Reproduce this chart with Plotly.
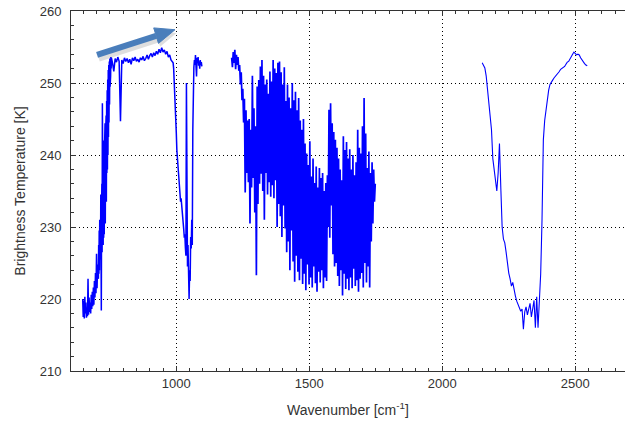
import plotly.graph_objects as go

# ---- data (brightness temperature spectrum) ----
# segment A: 648..706 cm-1, sampled every 2 cm-1
segA_start, segA_step = 648, 2
segA_bt = [
    220.0, 217.5, 219.8, 217.3, 220.3, 218.0, 219.5, 217.4, 218.8, 217.6,
    222.8, 217.8, 220.2, 218.2, 219.5, 218.0, 220.6, 218.6, 221.0, 219.0,
    221.6, 219.2, 222.5, 220.2, 223.6, 220.8, 226.3, 221.5, 224.8, 222.8,
]
# segment A2 (steep noisy rise): 707..756 cm-1, every 1 cm-1
segA2_start, segA2_step = 707, 1
segA2_bt = [
    222.8, 227.5, 223.5, 229.5, 224.0, 231.0, 225.5, 228.0, 226.0, 234.5,
    224.5, 218.4, 232.0, 236.0, 226.5, 247.2, 229.0, 238.5, 227.5, 240.0,
    228.5, 242.0, 229.0, 241.0, 231.5, 244.4, 230.5, 243.0, 234.0, 245.5,
    233.5, 247.5, 237.5, 249.0, 238.0, 250.5, 240.0, 251.8, 242.5, 252.5,
    244.5, 253.0, 247.0, 253.4, 249.5, 253.2, 251.0, 253.6, 252.0, 253.5,
]
# segment B: 760..985 cm-1, every 5 cm-1
segB_start, segB_step = 760, 5
segB_bt = [
    252.8, 251.6, 253.4, 252.9, 253.6, 253.0, 244.7, 253.2, 252.7, 253.5,
    253.0, 253.4, 252.8, 253.3, 252.6, 253.5, 253.1, 253.6, 253.0, 253.3,
    252.9, 253.5, 253.2, 253.7, 253.1, 253.4, 253.9, 253.3, 253.8, 254.1,
    253.6, 254.2, 253.8, 254.4, 254.0, 254.7, 254.2, 254.9, 254.3, 254.6,
    254.0, 254.4, 253.6, 253.9, 253.2, 252.9,
]
# segment C: 988..1096 cm-1, every 2 cm-1
segC_start, segC_step = 988, 2
segC_bt = [
    252.8, 252.0, 250.5, 248.5, 246.7, 244.0, 243.0, 240.7, 239.5, 238.4,
    237.0, 236.1, 235.0, 234.2, 233.5, 234.0, 232.8, 231.8, 231.0, 230.2,
    229.6, 228.5, 229.0, 227.2, 226.0, 250.0, 226.5, 224.5, 227.5, 222.0,
    220.0, 224.0, 222.5, 228.6, 227.0, 231.0, 227.5, 243.5, 251.4, 252.2,
    253.2, 252.5, 253.9, 252.2, 250.9, 253.5, 252.8, 253.6, 252.4, 253.0,
    252.0, 253.2, 252.5, 252.9, 252.3,
]
# segment D: 1208..1748 cm-1, every 3 cm-1
segD_start, segD_step = 1208, 3
segD_bt = [
    253.5, 252.2, 254.3, 252.8, 254.6, 251.9, 253.9, 252.5, 253.6, 251.7,
    252.5, 249.8, 251.5, 247.6, 249.2, 244.5, 247.8, 234.8, 246.2, 237.5,
    244.8, 236.2, 245.0, 230.5, 243.5, 235.5, 251.0, 236.8, 246.5, 232.0,
    244.0, 223.3, 249.5, 233.2, 250.4, 236.0, 252.3, 237.4, 253.2, 235.0,
    251.0, 231.0, 249.8, 237.5, 250.5, 234.5, 248.5, 236.2, 251.6, 234.2,
    250.2, 235.8, 253.2, 234.0, 252.0, 236.5, 251.4, 230.0, 252.8, 233.2,
    253.0, 231.5, 251.5, 228.6, 249.8, 233.0, 252.2, 229.8, 247.5, 226.5,
    249.8, 228.0, 248.0, 224.0, 246.5, 229.5, 250.0, 225.2, 247.6, 222.4,
    248.8, 226.0, 246.2, 223.8, 247.9, 222.6, 244.8, 225.6, 243.5, 222.1,
    245.0, 223.5, 241.6, 221.2, 240.2, 224.8, 238.6, 222.0, 241.9, 223.0,
    237.0, 221.6, 239.5, 224.5, 236.1, 222.2, 238.4, 221.0, 235.5, 223.8,
    238.2, 222.3, 236.8, 224.0, 237.5, 221.5, 235.0, 223.0, 236.1, 222.5,
    237.2, 230.0, 246.3, 228.5, 247.2, 233.0, 244.4, 226.2, 243.2, 224.5,
    242.1, 225.0, 241.0, 223.2, 239.5, 221.8, 238.0, 224.0, 236.5, 220.5,
    242.6, 223.5, 240.7, 221.4, 241.8, 222.8, 239.5, 221.2, 240.8, 223.0,
    238.0, 221.5, 240.0, 224.2, 237.2, 221.8, 239.0, 222.6, 243.5, 221.0,
    241.0, 222.8, 240.2, 223.6, 244.0, 221.6, 247.9, 225.0, 243.0, 222.3,
    238.2, 224.5, 240.5, 221.6, 237.5, 228.0, 239.0, 230.5, 238.0, 233.5,
    236.0,
]
# segment E: 2150..2545 cm-1, every 5 cm-1
segE_start, segE_step = 2150, 5
segE_bt = [
    252.8, 252.5, 252.1, 251.0, 249.3, 247.2, 245.0, 243.5, 239.5, 237.8,
    236.4, 235.0, 237.5, 241.6, 235.5, 230.0, 228.3, 227.8, 226.5, 224.5,
    223.6, 222.8, 221.8, 222.3, 221.0, 220.4, 219.7, 219.3, 218.9, 218.3,
    218.6, 215.8, 218.2, 218.9, 217.8, 218.6, 219.4, 217.5, 218.9, 219.8,
    216.0, 220.3, 216.0, 220.7, 223.5, 231.0, 242.1, 244.8, 246.3, 247.9,
    249.0, 249.8, 250.2, 250.4, 250.7, 250.9, 251.2, 251.4, 251.6, 251.9,
    252.0, 252.1, 252.3, 252.6, 252.9, 253.0, 253.4, 253.7, 254.0, 254.3,
    254.1, 253.9, 254.0, 253.9, 253.5, 253.2, 252.9, 252.7, 252.5, 252.4,
]

x_tickvals = [1000, 1500, 2000, 2500]
y_tickvals = [210, 220, 230, 240, 250, 260]
x_title = "Wavenumber [cm<sup>-1</sup>]"
y_title = "Brightness Temperature [K]"

# arrow drawn on the chart (tail, head base, head corners, tip) in data units
arrow_tail = (702, 253.9)
arrow_base = (924, 256.55)
arrow_c1 = (933, 255.5)
arrow_c2 = (915, 257.65)
arrow_tip = (995, 257.4)

LINE = "#0000ff"

def seg_xy(start, step, vals):
    return [start + step * i for i in range(len(vals))], list(vals)

fig = go.Figure()
# A + A2 + B + C are contiguous, drawn as one line
xa, ya = seg_xy(segA_start, segA_step, segA_bt)
xa2, ya2 = seg_xy(segA2_start, segA2_step, segA2_bt)
xb, yb = seg_xy(segB_start, segB_step, segB_bt)
xc, yc = seg_xy(segC_start, segC_step, segC_bt)
fig.add_trace(go.Scatter(x=xa + xa2 + xb + xc, y=ya + ya2 + yb + yc, mode="lines",
                         line=dict(color=LINE, width=1.5), hoverinfo="skip"))
xd, yd = seg_xy(segD_start, segD_step, segD_bt)
fig.add_trace(go.Scatter(x=xd, y=yd, mode="lines",
                         line=dict(color=LINE, width=1.7), hoverinfo="skip"))
xe, ye = seg_xy(segE_start, segE_step, segE_bt)
fig.add_trace(go.Scatter(x=xe, y=ye, mode="lines",
                         line=dict(color=LINE, width=1.1), hoverinfo="skip"))

font_family = "Liberation Sans, Arial, sans-serif"
axis_color = "#333333"

fig.update_layout(
    width=625, height=428,
    margin=dict(l=71, r=0, t=11, b=57),
    paper_bgcolor="white", plot_bgcolor="white",
    showlegend=False,
    font=dict(family=font_family, size=13, color="#333333"),
)
fig.update_xaxes(
    range=[604, 2687], tickvals=x_tickvals,
    ticks="inside", ticklen=5, tickcolor=axis_color,
    minor=dict(dtick=50, tick0=0, ticks="inside", ticklen=3, tickcolor=axis_color,
               showgrid=False),
    showline=True, linecolor=axis_color, linewidth=1, mirror="ticks",
    showgrid=True, gridcolor="#000000", griddash="1px,3px", gridwidth=1,
    zeroline=False,
    title=dict(text=x_title, standoff=15, font=dict(size=14)),
    tickfont=dict(size=13),
)
fig.update_yaxes(
    range=[210, 260], tickvals=y_tickvals,
    ticks="inside", ticklen=5, tickcolor=axis_color,
    minor=dict(dtick=2, tick0=0, ticks="inside", ticklen=3, tickcolor=axis_color,
               showgrid=False),
    showline=True, linecolor=axis_color, linewidth=1, mirror=False,
    showgrid=True, gridcolor="#000000", griddash="1px,3px", gridwidth=1,
    zeroline=False,
    ticklabelstandoff=6,
    title=dict(text=y_title, standoff=10, font=dict(size=14)),
    tickfont=dict(size=13),
)

# arrow: soft shadow then the arrow itself
def tri_path(c1, tip, c2):
    return f"M {c1[0]},{c1[1]} L {tip[0]},{tip[1]} L {c2[0]},{c2[1]} Z"

shadow_dx, shadow_dy = 6, -0.45
sh = lambda p: (p[0] + shadow_dx, p[1] + shadow_dy)
fig.add_shape(type="line", xref="x", yref="y",
              x0=sh(arrow_tail)[0], y0=sh(arrow_tail)[1],
              x1=sh(arrow_base)[0], y1=sh(arrow_base)[1],
              line=dict(color="rgba(0,0,0,0.13)", width=7), layer="above")
fig.add_shape(type="path", xref="x", yref="y",
              path=tri_path(sh(arrow_c1), sh(arrow_tip), sh(arrow_c2)),
              fillcolor="rgba(0,0,0,0.13)", line=dict(width=0), layer="above")
fig.add_shape(type="line", xref="x", yref="y",
              x0=arrow_tail[0], y0=arrow_tail[1], x1=arrow_base[0], y1=arrow_base[1],
              line=dict(color="#4a7ebb", width=6), layer="above")
fig.add_shape(type="path", xref="x", yref="y",
              path=tri_path(arrow_c1, arrow_tip, arrow_c2),
              fillcolor="#4a7ebb", line=dict(color="#4a7ebb", width=1), layer="above")

fig.write_html("out.html")
